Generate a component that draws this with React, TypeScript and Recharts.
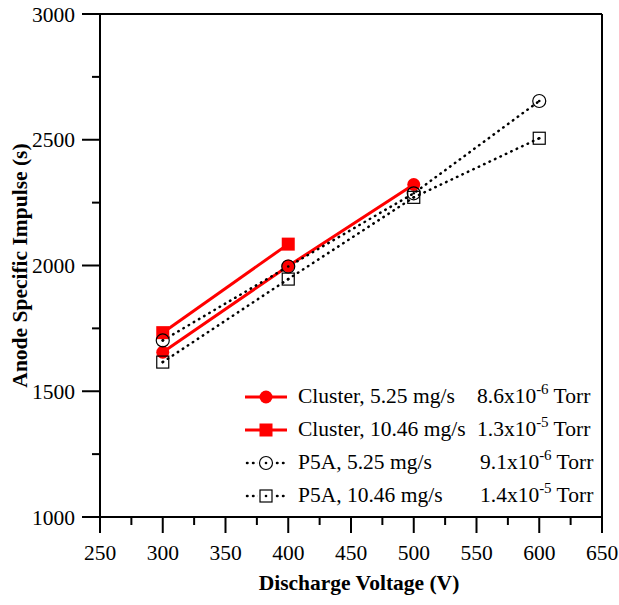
import {
  LineChart,
  Line,
  XAxis,
  YAxis,
  Legend,
  ReferenceLine,
} from "recharts";

// discharge voltage (V)
const voltages = [300, 400, 500, 600];
// anode specific impulse (s)
const clusterLow = [1655, 1998, 2322, null];
const clusterHigh = [1733, 2085, null, null];
const p5aLow = [1702, 1996, 2287, 2654];
const p5aHigh = [1616, 1946, 2271, 2506];

const xTicks = [250, 275, 300, 325, 350, 375, 400, 425, 450, 475, 500, 525, 550, 575, 600, 625, 650];
const yTicks = [1000, 1250, 1500, 1750, 2000, 2250, 2500, 2750, 3000];

const legendRows = [
  { name: "Cluster, 5.25 mg/s", mant: "8.6x10", exp: "-6", kind: "redCircle" },
  { name: "Cluster, 10.46 mg/s", mant: "1.3x10", exp: "-5", kind: "redSquare" },
  { name: "P5A, 5.25 mg/s", mant: "9.1x10", exp: "-6", kind: "openCircle" },
  { name: "P5A, 10.46 mg/s", mant: "1.4x10", exp: "-5", kind: "openSquare" },
];

const data = voltages.map((v, i) => ({
  v,
  clusterLow: clusterLow[i],
  clusterHigh: clusterHigh[i],
  p5aLow: p5aLow[i],
  p5aHigh: p5aHigh[i],
}));

const FONT = "'Liberation Serif', 'Times New Roman', serif";
const FS = 21.5;
const RED = "#ff0000";

function Marker({ kind, cx, cy }: { kind: string; cx: number; cy: number }) {
  if (kind === "redCircle") return <circle cx={cx} cy={cy} r={6.5} fill={RED} />;
  if (kind === "redSquare")
    return <rect x={cx - 6.5} y={cy - 6.5} width={13} height={13} fill={RED} />;
  if (kind === "openCircle")
    return (
      <g>
        <circle cx={cx} cy={cy} r={6.5} fill="none" stroke="#000" strokeWidth={1.2} />
        <circle cx={cx} cy={cy} r={1.3} fill="#000" />
      </g>
    );
  return (
    <g>
      <rect x={cx - 6} y={cy - 6} width={12} height={12} fill="none" stroke="#000" strokeWidth={1.2} />
      <circle cx={cx} cy={cy} r={1.3} fill="#000" />
    </g>
  );
}

const makeDot = (kind: string) => (props: any) => {
  const { cx, cy, index, value } = props;
  if (cx == null || cy == null || value == null) return <g key={`${kind}-${index}`} />;
  return (
    <g key={`${kind}-${index}`}>
      <Marker kind={kind} cx={cx} cy={cy} />
    </g>
  );
};

const XTick = ({ x, y, payload }: any) => {
  const major = payload.value % 50 === 0;
  return (
    <g>
      <line x1={x} x2={x} y1={y} y2={y + (major ? 16 : 8)} stroke="#000" strokeWidth={2} />
      {major && (
        <text x={x} y={y + 43} textAnchor="middle" fontSize={FS} fontFamily={FONT} fill="#000">
          {payload.value}
        </text>
      )}
    </g>
  );
};

const YTick = ({ x, y, payload }: any) => {
  const major = payload.value % 500 === 0;
  return (
    <g>
      <line x1={x - (major ? 18 : 8)} x2={x} y1={y} y2={y} stroke="#000" strokeWidth={2} />
      {major && (
        <text x={x - 25} y={y + 7.5} textAnchor="end" fontSize={FS} fontFamily={FONT} fill="#000">
          {payload.value}
        </text>
      )}
    </g>
  );
};

const YTitle = ({ viewBox }: any) => {
  const cy = viewBox.y + viewBox.height / 2;
  return (
    <text
      x={27}
      y={cy}
      transform={`rotate(-90, 27, ${cy})`}
      textAnchor="middle"
      fontSize={FS}
      fontWeight="bold"
      fontFamily={FONT}
      fill="#000"
    >
      Anode Specific Impulse (s)
    </text>
  );
};

const XTitle = ({ viewBox }: any) => {
  const cx = viewBox.x + viewBox.width / 2;
  return (
    <text
      x={cx + 8}
      y={590}
      textAnchor="middle"
      fontSize={FS}
      fontWeight="bold"
      fontFamily={FONT}
      fill="#000"
    >
      Discharge Voltage (V)
    </text>
  );
};

function LegendSymbol({ kind }: { kind: string }) {
  const red = kind.startsWith("red");
  return (
    <svg width={44} height={20} style={{ display: "block" }}>
      {red ? (
        <line x1={0} x2={42} y1={10} y2={10} stroke={RED} strokeWidth={3} />
      ) : (
        <line
          x1={2}
          x2={40}
          y1={10}
          y2={10}
          stroke="#000"
          strokeWidth={2.5}
          strokeDasharray="0.5 5.5"
          strokeLinecap="round"
        />
      )}
      {!red && <rect x={13} y={2} width={16} height={16} fill="#fff" />}
      <Marker kind={kind} cx={21} cy={10} />
    </svg>
  );
}

const LegendBox = () => (
  <div style={{ fontFamily: FONT, fontSize: FS, color: "#000" }}>
    {legendRows.map((r, i) => (
      <div key={r.name} style={{ display: "flex", alignItems: "center", height: 33 }}>
        <span style={{ width: 53, display: "inline-block" }}>
          <LegendSymbol kind={r.kind} />
        </span>
        <span style={{ width: i < 2 ? 179 : 182, display: "inline-block", whiteSpace: "nowrap" }}>
          {r.name}
        </span>
        <span style={{ whiteSpace: "nowrap" }}>
          {r.mant}
          <span style={{ fontSize: 15, position: "relative", top: -9 }}>{r.exp}</span> Torr
        </span>
      </div>
    ))}
  </div>
);

export default function App() {
  return (
    <div
      style={{
        position: "absolute",
        left: 0,
        top: 0,
        width: 619,
        height: 605,
        background: "#fff",
        overflow: "visible",
      }}
    >
      <LineChart
        width={619}
        height={605}
        data={data}
        margin={{ top: 14, right: 17, left: 0, bottom: 0 }}
        style={{ overflow: "visible" }}
      >
        <XAxis
          dataKey="v"
          type="number"
          domain={[250, 650]}
          ticks={xTicks}
          interval={0}
          height={88}
          tickSize={0}
          tickMargin={0}
          tick={<XTick />}
          axisLine={{ stroke: "#000", strokeWidth: 2 }}
          label={<XTitle />}
        />
        <YAxis
          type="number"
          domain={[1000, 3000]}
          ticks={yTicks}
          interval={0}
          width={100}
          tickSize={0}
          tickMargin={0}
          tick={<YTick />}
          axisLine={{ stroke: "#000", strokeWidth: 2 }}
          label={<YTitle />}
        />
        <ReferenceLine y={3000} stroke="#000" strokeWidth={2} />
        <ReferenceLine x={650} stroke="#000" strokeWidth={2} />
        <Line
          dataKey="clusterLow"
          stroke={RED}
          strokeWidth={3}
          dot={makeDot("redCircle")}
          isAnimationActive={false}
        />
        <Line
          dataKey="clusterHigh"
          stroke={RED}
          strokeWidth={3}
          dot={makeDot("redSquare")}
          isAnimationActive={false}
        />
        <Line
          dataKey="p5aLow"
          stroke="#000"
          strokeWidth={2.5}
          strokeDasharray="0.5 5.5"
          strokeLinecap="round"
          dot={makeDot("openCircle")}
          isAnimationActive={false}
        />
        <Line
          dataKey="p5aHigh"
          stroke="#000"
          strokeWidth={2.5}
          strokeDasharray="0.5 5.5"
          strokeLinecap="round"
          dot={makeDot("openSquare")}
          isAnimationActive={false}
        />
        <Legend
          layout="vertical"
          align="center"
          verticalAlign="middle"
          content={<LegendBox />}
          wrapperStyle={{ left: 245, top: 380, width: 370 }}
        />
      </LineChart>
    </div>
  );
}
